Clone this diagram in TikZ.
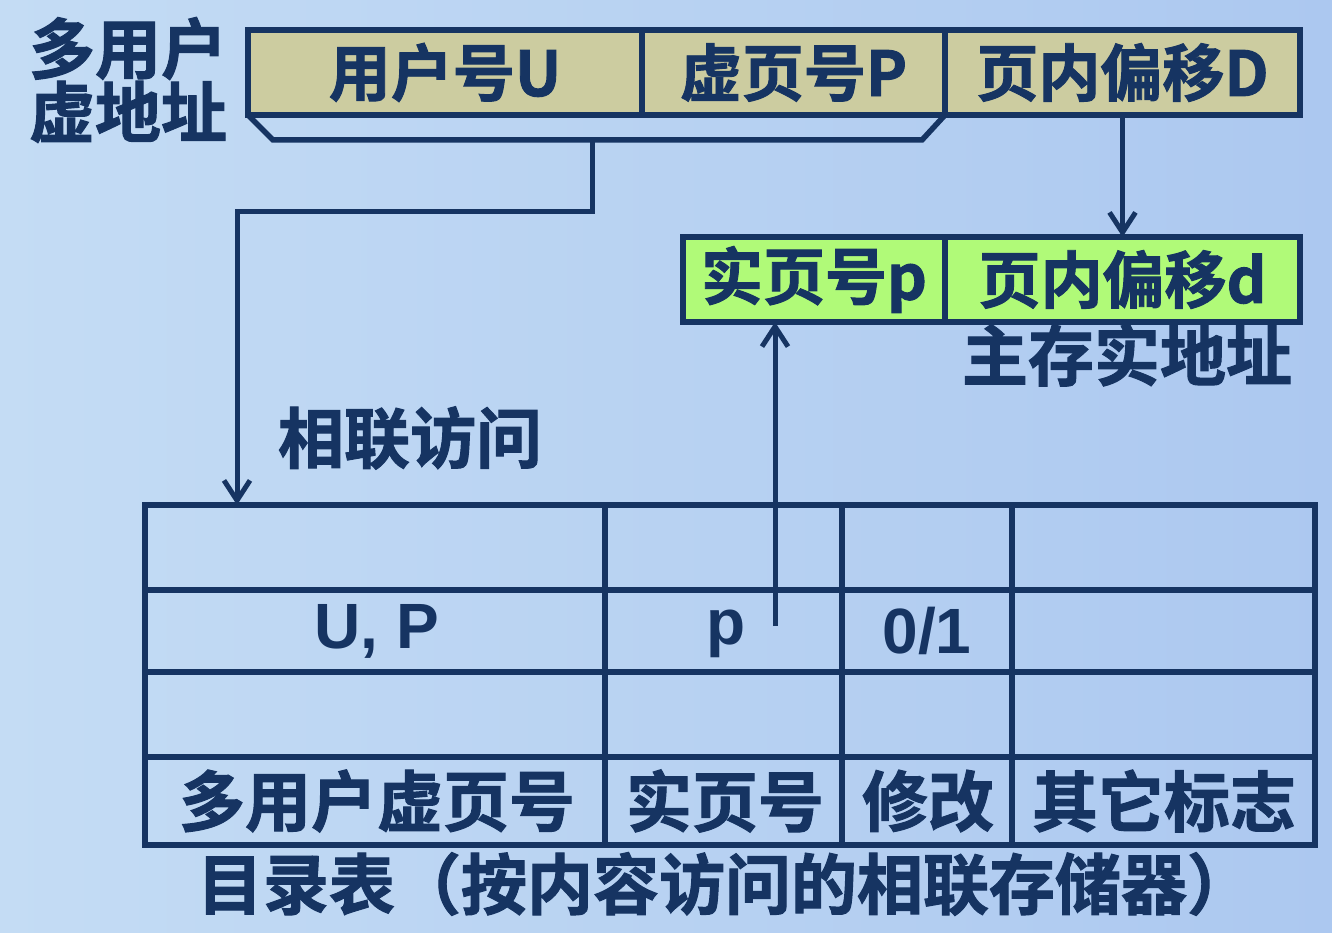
\documentclass[tikz,border=0pt]{standalone}
\usepackage{fontspec}
\setmainfont{Liberation Sans}[BoldFont={Liberation Sans Bold}]
\newfontfamily\cjk{Noto Sans CJK SC Bold}[FakeBold=1.5]
\usetikzlibrary{positioning,arrows.meta}
\definecolor{navy}{RGB}{22,52,98}
\definecolor{tan}{RGB}{204,204,160}
\definecolor{lime}{RGB}{176,250,120}
\definecolor{bgleft}{RGB}{196,220,244}
\definecolor{bgright}{RGB}{172,200,240}

\tikzset{
  field/.style={draw=navy, line width=5.5pt, inner sep=0pt, outer sep=0pt, minimum height=85pt,
    text=navy, font=\cjk\fontsize{62}{62}\selectfont},
  vfield/.style={field, fill=tan},
  rfield/.style={field, fill=lime},
  tabline/.style={draw=navy, line width=5.5pt},
  link/.style={draw=navy, line width=5pt, -{Straight Barb[length=20pt,width=26pt]}},
  hanzi/.style={text=navy, inner sep=0pt, font=\cjk\fontsize{66}{62}\selectfont},
  latin/.style={text=navy, inner sep=0pt, font=\bfseries\fontsize{64}{64}\selectfont}
}

\begin{document}
\begin{tikzpicture}[x=1pt, y=-1pt]
    \useasboundingbox (0,0) rectangle (1332,933);
    \shade[left color=bgleft, right color=bgright] (0,0) rectangle (1332,933);
    % virtual address
    \node[hanzi, align=left] (va) at (128,80) {多用户\\虚地址};
    \node[vfield, minimum width=394pt] (U) at (445,72.5) {用户号U};
    \node[vfield, minimum width=303pt, right=0pt of U] (P) {虚页号P};
    \node[vfield, minimum width=355pt, right=0pt of P] (D) {页内偏移D};
    \path (P.south east) ++(-23,25) coordinate (br);
    \draw[tabline] (U.south west) -- ++(25,25) -- (br) -- (P.south east);
    % real address
    \node[rfield, minimum width=262pt] (pr) at (814,279.5) {实页号p};
    \node[rfield, minimum width=355pt, right=0pt of pr] (dr) {页内偏移d};
    \node[hanzi] (ra) at (1127,355) {主存实地址};
    \draw[link] (D.south) -- (dr.north);
    % associative memory
    \node[hanzi] (assoc) at (410,438) {相联访问};
    \draw[tabline] (145,505) rectangle (1315,845);
    \foreach \y in {590,672,757} \draw[tabline] (145,\y) -- (1315,\y);
    \foreach \x in {605,842,1012} \draw[tabline] (\x,505) -- (\x,845);
    \coordinate (brk) at (592,140);
    \coordinate (hit) at (237,505);
    \draw[link] (brk) -- ++(0,72) -| (hit);
    \node[latin] (up) at (377,631) {U, P};
    \node[latin] (pv) at (726,634) {p};
    \node[latin] (mod) at (927,631) {0/1};
    \coordinate (pout) at (775,626);
    \draw[link] (pout) -- (pout |- pr.south);
    \node[hanzi] (h1) at (377,801) {多用户虚页号};
    \node[hanzi] (h2) at (725,801) {实页号};
    \node[hanzi] (h3) at (928,801) {修改};
    \node[hanzi] (h4) at (1164,801) {其它标志};
    \node[hanzi] (dir) at (725,884) {目录表（按内容访问的相联存储器）};
  \end{tikzpicture}
\end{document}
